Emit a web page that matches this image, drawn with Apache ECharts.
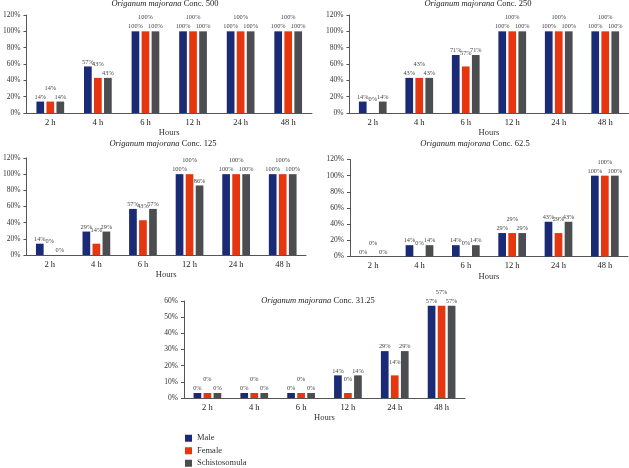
<!DOCTYPE html>
<html>
<head>
<meta charset="utf-8">
<script src="https://cdn.jsdelivr.net/npm/echarts@6/dist/echarts.min.js"></script>
<style>html,body{margin:0;padding:0;background:#fff;}#c{width:629px;height:468px;}</style>
</head>
<body>
<div id="c"></div>
<script>
const categories = ['2 h', '4 h', '6 h', '12 h', '24 h', '48 h'];
const concentrations = ['500', '250', '125', '62.5', '31.25'];
const seriesNames = ['Male', 'Female', 'Schistosomula'];

const male500 = [14, 57, 100, 100, 100, 100];
const female500 = [14, 43, 100, 100, 100, 100];
const schisto500 = [14, 43, 100, 100, 100, 100];

const male250 = [14, 43, 71, 100, 100, 100];
const female250 = [0, 43, 57, 100, 100, 100];
const schisto250 = [14, 43, 71, 100, 100, 100];

const male125 = [14, 29, 57, 100, 100, 100];
const female125 = [0, 14, 43, 100, 100, 100];
const schisto125 = [0, 29, 57, 86, 100, 100];

const male625 = [0, 14, 14, 29, 43, 100];
const female625 = [0, 0, 0, 29, 29, 100];
const schisto625 = [0, 14, 14, 29, 43, 100];

const male3125 = [0, 0, 0, 14, 29, 57];
const female3125 = [0, 0, 0, 0, 14, 57];
const schisto3125 = [0, 0, 0, 14, 29, 57];

const yMax = [120, 120, 120, 120, 60];
const yStep = [20, 20, 20, 20, 10];

const panelData = [
  [male500, female500, schisto500],
  [male250, female250, schisto250],
  [male125, female125, schisto125],
  [male625, female625, schisto625],
  [male3125, female3125, schisto3125]
];

const FONT = 'Liberation Serif';
const colors = ['#1b2a74', '#e5360f', '#4b4d51'];

const grids = [
  {left: 26, top: 15, width: 286, height: 98},
  {left: 349.5, top: 15, width: 279, height: 98},
  {left: 26, top: 158, width: 280, height: 97},
  {left: 350, top: 159.5, width: 278, height: 97},
  {left: 184, top: 301, width: 281, height: 97}
];
const titlePos = [[165, 4], [478, 4], [163, 144], [475, 144], [318, 301]];

const xAxes = [], yAxes = [], series = [], graphics = [];
grids.forEach((g, i) => {
  xAxes.push({
    type: 'category', gridIndex: i, data: categories,
    name: 'Hours', nameLocation: 'middle', nameGap: 15.5,
    nameTextStyle: {fontFamily: FONT, fontSize: 8.5, color: '#333'},
    axisLine: {lineStyle: {color: '#555', width: 1}},
    axisTick: {show: false},
    axisLabel: {fontFamily: FONT, fontSize: 8.5, color: '#222', margin: 5}
  });
  yAxes.push({
    type: 'value', gridIndex: i, min: 0, max: yMax[i], interval: yStep[i],
    axisLine: {show: true, lineStyle: {color: '#555', width: 1}},
    axisTick: {show: true, length: 3, lineStyle: {color: '#555'}},
    splitLine: {show: false},
    axisLabel: {fontFamily: FONT, fontSize: 7.5, color: '#333', margin: 6, formatter: '{value}%'}
  });
  panelData[i].forEach((arr, k) => {
    series.push({
      type: 'bar', name: seriesNames[k], xAxisIndex: i, yAxisIndex: i,
      data: arr, barWidth: 7.7, barGap: '30%',
      barMinHeight: i === 4 ? 5 : 0,
      itemStyle: {color: colors[k]},
      label: {
        show: true, position: 'top', distance: 1.5,
        offset: k === 1 ? [0, -9] : [0, 0],
        formatter: '{c}%', fontFamily: FONT, fontSize: 6.3, color: '#444'
      }
    });
  });
  graphics.push({
    type: 'text', x: titlePos[i][0], y: titlePos[i][1],
    style: {
      text: '{i|Origanum majorana} Conc. ' + concentrations[i],
      rich: {i: {fontStyle: 'italic', fontFamily: FONT, fontSize: 8.5, fill: '#222'}},
      fontFamily: FONT, fontSize: 8.5, fill: '#222',
      align: 'center', verticalAlign: 'middle'
    }
  });
});

const chart = echarts.init(document.getElementById('c'), null, {renderer: 'canvas'});
chart.setOption({
  animation: false,
  backgroundColor: '#fff',
  grid: grids,
  xAxis: xAxes,
  yAxis: yAxes,
  series: series,
  graphic: graphics,
  legend: {
    data: seriesNames, orient: 'vertical', left: 185, top: 433, height: 60, padding: 0,
    icon: 'rect', itemWidth: 7, itemHeight: 7, itemGap: 2,
    textStyle: {fontFamily: FONT, fontSize: 8.5, lineHeight: 10.5, color: '#333'}
  }
});
</script>
</body>
</html>
